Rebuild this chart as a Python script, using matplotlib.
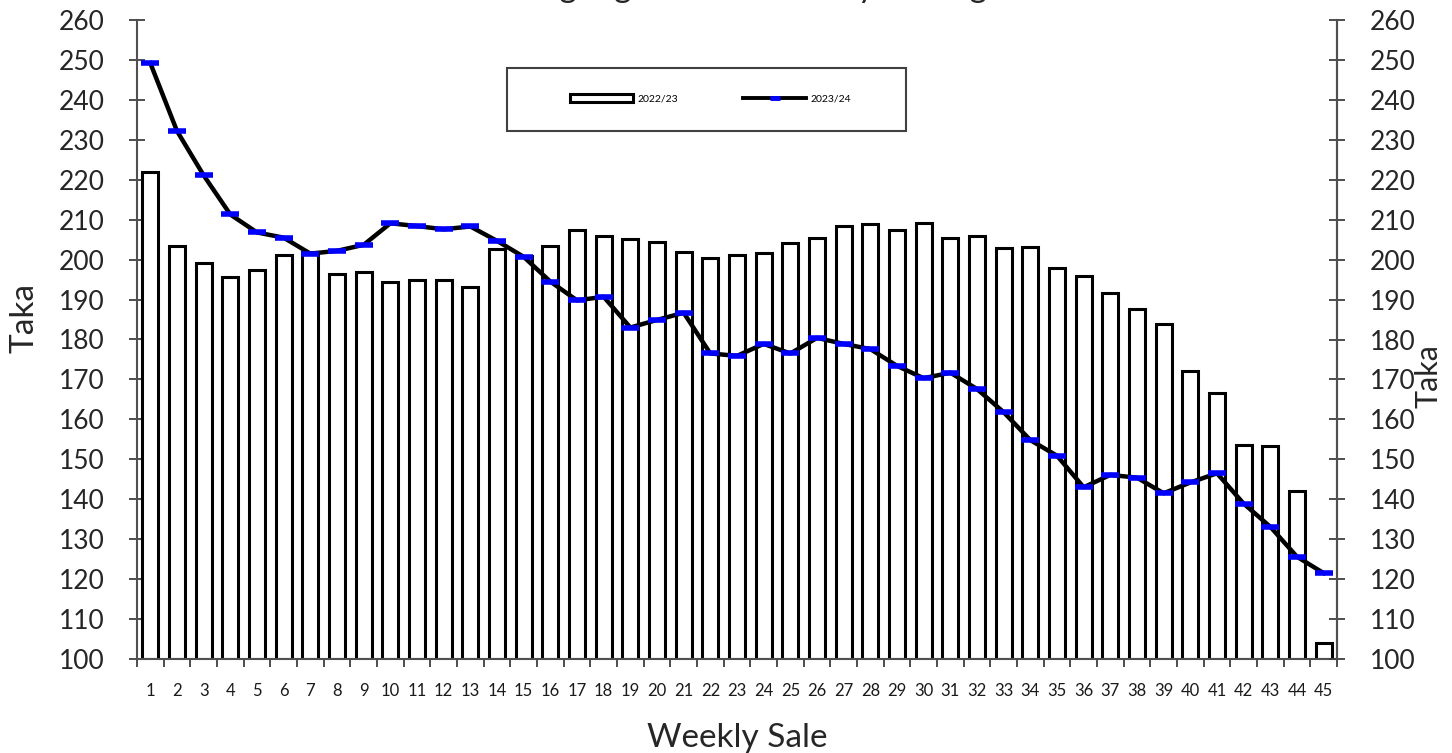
import matplotlib
matplotlib.use("Agg")
import matplotlib.pyplot as plt
from matplotlib.lines import Line2D
from matplotlib.patches import Rectangle

plt.rcParams['font.family'] = ['Lato', 'DejaVu Sans']

weeks = list(range(1, 46))
week_labels = [str(w) for w in weeks]

sales_2022_23 = [221.9, 203.5, 199.2, 195.7, 197.4, 201.2, 201.9, 196.3, 196.8, 194.4,
                 194.9, 194.9, 193.2, 202.6, 201.0, 203.5, 207.4, 205.9, 205.2, 204.3,
                 202.0, 200.3, 201.2, 201.6, 204.1, 205.3, 208.3, 208.8, 207.4, 209.1,
                 205.5, 205.9, 202.8, 203.2, 197.9, 195.9, 191.6, 187.6, 183.9, 172.0,
                 166.5, 153.6, 153.3, 142.0, 104.0]

sales_2023_24 = [249.2, 232.2, 221.1, 211.3, 206.8, 205.5, 201.5, 202.2, 203.7, 209.1,
                 208.4, 207.6, 208.3, 204.7, 200.7, 194.5, 189.8, 190.7, 183.0, 184.9,
                 186.7, 176.5, 175.9, 178.9, 176.5, 180.4, 178.9, 177.6, 173.4, 170.3,
                 171.7, 167.6, 161.8, 154.8, 150.9, 143.0, 146.1, 145.4, 141.5, 144.2,
                 146.5, 138.9, 133.1, 125.6, 121.5]

series_names = ["2022/23", "2023/24"]
y_ticks = list(range(100, 261, 10))

title = "Chittagong Auction Weekly Average"
x_label = "Weekly Sale"
y_label = "Taka"

fig = plt.figure(figsize=(14.52, 7.53), dpi=100)
ax = fig.add_axes([137/1452, 94/753, 1200/1452, 639/753])

ax.bar(weeks, [v - 100 for v in sales_2022_23], bottom=100, width=0.6,
       facecolor='white', edgecolor='black', linewidth=2.2, zorder=2)
ax.plot(weeks, sales_2023_24, color='black', linewidth=3.2, zorder=3,
        solid_joinstyle='round')
ax.plot(weeks, sales_2023_24, linestyle='none', marker='_', markersize=13,
        markeredgewidth=4, color='#0000ff', zorder=4)

ax.set_xlim(0.5, 45.5)
ax.set_ylim(100, 260)
ax.set_yticks(y_ticks)
ax.set_yticklabels([str(t) for t in y_ticks], fontsize=19, color='#262626')

# x axis: tick marks at category boundaries, labels at centers
ax.set_xticks([w + 0.5 for w in weeks[:-1]] + [0.5, 45.5])
ax.set_xticklabels([])
ax.set_xticks(weeks, minor=True)
ax.set_xticklabels(week_labels, minor=True, fontsize=12, color='#1a1a1a')
ax.tick_params(axis='x', which='major', direction='out', length=6, width=1.3,
               color='#404040')
ax.tick_params(axis='x', which='minor', length=0, pad=17)
ax.tick_params(axis='y', direction='inout', length=11, width=1.3,
               color='#404040', pad=18)

for side in ['top']:
    ax.spines[side].set_visible(False)
for side in ['left', 'right', 'bottom']:
    ax.spines[side].set_color('#505050')
    ax.spines[side].set_linewidth(1.5)

ax2 = ax.twinx()
ax2.set_ylim(100, 260)
ax2.set_yticks(y_ticks)
ax2.set_yticklabels([str(t) for t in y_ticks], fontsize=19, color='#262626')
ax2.tick_params(axis='y', direction='inout', length=11, width=1.3,
                color='#404040', pad=18)
for side in ['top', 'left', 'bottom']:
    ax2.spines[side].set_visible(False)
ax2.spines['right'].set_color('#505050')
ax2.spines['right'].set_linewidth(1.5)

# legend
handles = [Rectangle((0, 0), 1, 1, facecolor='white', edgecolor='black', linewidth=2.2),
           Line2D([0], [0], color='black', linewidth=2.8, marker='_', markersize=7,
                  markeredgewidth=3.5, markeredgecolor='#0000ff')]
leg = ax.legend(handles, series_names, loc='center', bbox_to_anchor=(0.478, 0.877),
                ncol=2, frameon=False, fontsize=7.5, handlelength=6.0, handleheight=0.75,
                columnspacing=6.3, handletextpad=0.45)
ax.add_patch(Rectangle(((507-137)/1200, (659-131)/639), 399/1200, 63/639,
                       transform=ax.transAxes, facecolor='white', edgecolor='#404040',
                       linewidth=1.5, zorder=5))
leg.set_zorder(6)

fig.text(737/1452, 1 + 3/753, title, ha='center', va='baseline', fontsize=24,
         color='#262626')
fig.text(737/1452, 1 - 738/753, x_label, ha='center', va='center', fontsize=24,
         color='#262626')
fig.text(24/1452, 1 - 318/753, y_label, ha='center', va='center', fontsize=24,
         rotation=90, color='#262626')
fig.text(1428/1452, 1 - 376/753, y_label, ha='center', va='center', fontsize=22,
         rotation=90, color='#262626')

fig.savefig('out.png', dpi=100)
